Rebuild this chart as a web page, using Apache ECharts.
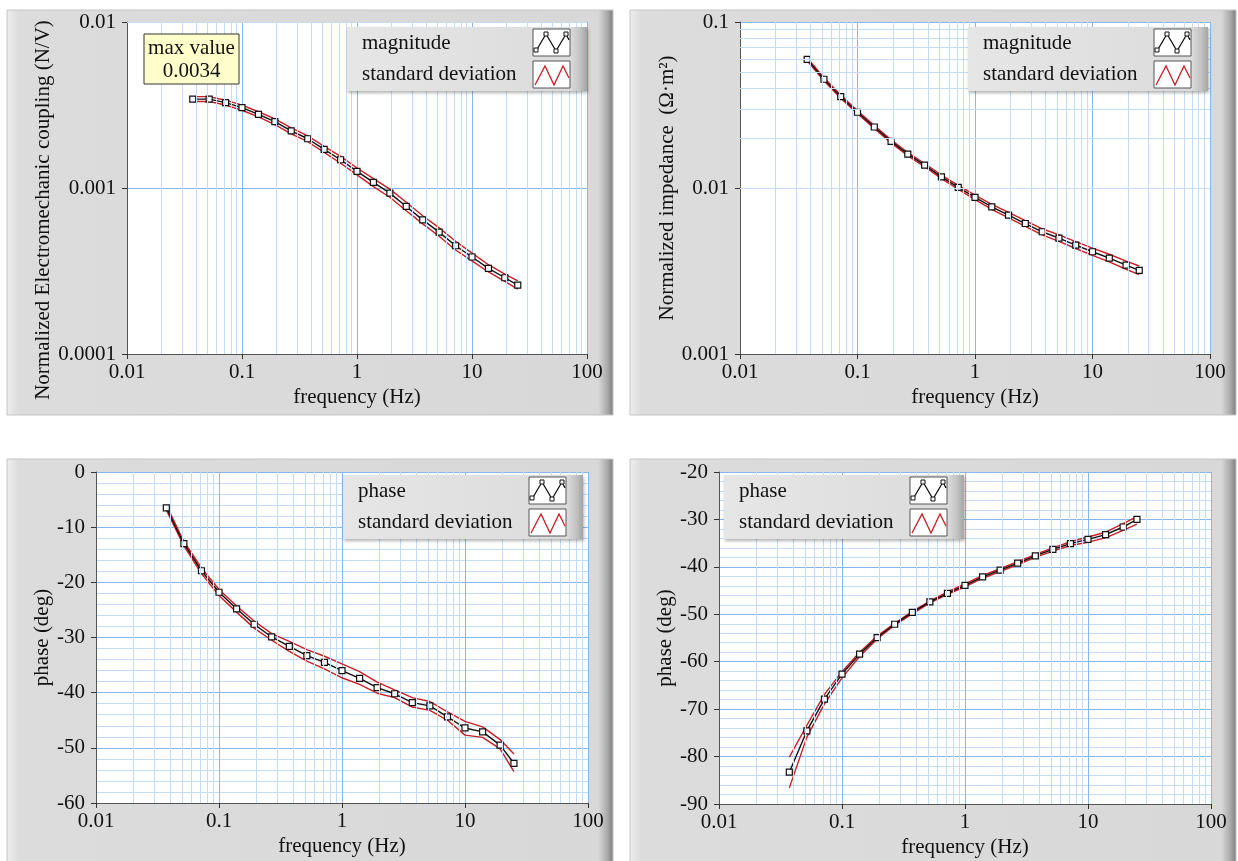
<!DOCTYPE html>
<html>
<head>
<meta charset="utf-8">
<script src="https://cdn.jsdelivr.net/npm/echarts@6/dist/echarts.min.js"></script>
<style>
  html, body { margin: 0; padding: 0; background: #fff; }
  #box { width: 1238px; height: 861px; }
</style>
</head>
<body>
<div id="box"></div>
<script>
// frequency points (Hz), shared by all four graphs
const freq = [0.0373, 0.0518, 0.072, 0.1, 0.139, 0.193, 0.268, 0.373, 0.518, 0.72,
  1, 1.39, 1.93, 2.68, 3.73, 5.18, 7.2, 10, 13.9, 19.3, 25];

// top left: electromechanic coupling (N/V)
const couplingMag = [0.00343, 0.00343, 0.00327, 0.00305, 0.00278, 0.00251, 0.00221, 0.00198, 0.00171, 0.00148,
  0.00126, 0.00108, 0.000931, 0.000774, 0.000643, 0.000542, 0.000449, 0.000384, 0.000328, 0.000288, 0.00026];
const couplingHi = [0.00355, 0.00355, 0.00338, 0.00316, 0.00288, 0.00261, 0.0023, 0.00206, 0.00178, 0.00155,
  0.00132, 0.00114, 0.000985, 0.00082, 0.00068, 0.000575, 0.000478, 0.000405, 0.000345, 0.000303, 0.000276];
const couplingLo = [0.00332, 0.00332, 0.00316, 0.00294, 0.00268, 0.00241, 0.00212, 0.0019, 0.00164, 0.00141,
  0.0012, 0.00102, 0.00088, 0.00073, 0.000608, 0.000512, 0.000423, 0.000364, 0.000312, 0.000274, 0.000246];

// top right: impedance (ohm m2)
const impedMag = [0.0596, 0.0452, 0.0355, 0.0286, 0.0233, 0.0191, 0.016, 0.01373, 0.01167, 0.0101,
  0.00877, 0.0077, 0.00686, 0.00611, 0.00545, 0.00499, 0.00453, 0.00413, 0.00378, 0.00343, 0.00319];
const impedHi = [0.061, 0.0462, 0.0363, 0.0292, 0.0238, 0.0195, 0.01635, 0.01405, 0.01197, 0.01038,
  0.00905, 0.00797, 0.00712, 0.00636, 0.00568, 0.00522, 0.00475, 0.00434, 0.00399, 0.00363, 0.00339];
const impedLo = [0.0583, 0.0442, 0.0347, 0.028, 0.0228, 0.0187, 0.01565, 0.01342, 0.01138, 0.00983,
  0.0085, 0.00744, 0.0066, 0.00587, 0.00522, 0.00477, 0.00432, 0.00393, 0.00359, 0.00324, 0.00301];

// bottom left: phase of coupling (deg)
const phase1 = [-6.5, -13.0, -17.9, -21.8, -24.8, -27.6, -29.9, -31.6, -33.3, -34.5,
  -36.0, -37.4, -39.1, -40.2, -41.8, -42.4, -44.4, -46.4, -47.1, -49.5, -52.8];
const phase1Hi = [-6.0, -12.6, -17.4, -21.3, -24.3, -27.0, -29.3, -30.7, -32.2, -33.4,
  -34.8, -36.2, -38.1, -39.5, -40.9, -41.6, -43.5, -45.2, -46.2, -48.5, -51.1];
const phase1Lo = [-6.9, -13.4, -18.4, -22.4, -25.4, -28.3, -30.5, -32.5, -34.3, -35.7,
  -37.3, -38.5, -40.1, -40.9, -42.6, -43.2, -45.0, -47.7, -48.1, -50.2, -54.3];

// bottom right: phase of impedance (deg)
const phase2 = [-83.3, -74.6, -67.9, -62.6, -58.4, -54.9, -52.1, -49.6, -47.4, -45.6,
  -43.9, -42.1, -40.7, -39.2, -37.7, -36.3, -35.1, -34.2, -33.2, -31.6, -30.0];
const phase2Hi = [-80.1, -73.4, -66.9, -62.1, -58.0, -54.6, -51.9, -49.4, -47.2, -45.3,
  -43.6, -41.8, -40.4, -38.9, -37.4, -36.0, -34.7, -33.7, -32.7, -30.9, -29.4];
const phase2Lo = [-86.6, -75.9, -68.9, -63.4, -58.9, -55.2, -52.3, -49.9, -47.6, -45.8,
  -44.2, -42.4, -41.0, -39.5, -38.0, -36.7, -35.5, -34.8, -33.9, -32.3, -31.0];

// minor grid positions on the log axes
const freqMinor = [0.02, 0.03, 0.04, 0.05, 0.06, 0.07, 0.08, 0.09, 0.2, 0.3, 0.4, 0.5, 0.6, 0.7, 0.8, 0.9,
  2, 3, 4, 5, 6, 7, 8, 9, 20, 30, 40, 50, 60, 70, 80, 90];
const couplingMinor = [0.0002, 0.0003, 0.0004, 0.0005, 0.0006, 0.0007, 0.0008, 0.0009,
  0.002, 0.003, 0.004, 0.005, 0.006, 0.007, 0.008, 0.009];
const impedMinor = [0.002, 0.003, 0.004, 0.005, 0.006, 0.007, 0.008, 0.009,
  0.02, 0.03, 0.04, 0.05, 0.06, 0.07, 0.08, 0.09];

const FONT = '"Liberation Serif", "Times New Roman", "DejaVu Serif", serif';
const INK = '#111';
const MAJOR = '#86b8f0';
const MINOR = '#c4dcf8';
const RED = '#c81e24';

const chartDom = document.getElementById('box');
const myChart = echarts.init(chartDom);

const pairs = ys => freq.map((f, i) => [f, ys[i]]);
const logFmt = v => String(+(+v).toPrecision(3));

// plot areas
const grids = [
  { left: 127, top: 22, width: 460, height: 332 },
  { left: 740, top: 22, width: 470, height: 332 },
  { left: 96, top: 472, width: 492, height: 331 },
  { left: 719, top: 472, width: 492, height: 332 }
].map(g => Object.assign(g, { show: true, backgroundColor: '#fff', borderWidth: 0 }));

const xAxes = grids.map((g, i) => ({
  type: 'log', logBase: 10, min: 0.01, max: 100, splitNumber: 4, gridIndex: i, z: 2,
  name: 'frequency (Hz)', nameLocation: 'middle', nameGap: 33,
  nameTextStyle: { fontSize: 21, color: INK, fontFamily: FONT },
  axisLine: { show: true, onZero: false, lineStyle: { color: '#555', width: 1 } },
  axisTick: { show: true, length: 5, lineStyle: { color: '#333' } },
  axisLabel: { fontSize: 21, color: INK, fontFamily: FONT, margin: 8, formatter: logFmt },
  splitLine: { show: true, lineStyle: { color: MAJOR, width: 1 } }
}));

const yBase = {
  z: 2,
  nameLocation: 'middle',
  axisLine: { show: true, lineStyle: { color: '#555', width: 1 } },
  axisTick: { show: true, length: 5, lineStyle: { color: '#333' } },
  splitLine: { show: true, lineStyle: { color: MAJOR, width: 1 } }
};
const yAxes = [
  Object.assign({}, yBase, {
    gridIndex: 0, type: 'log', logBase: 10, min: 0.0001, max: 0.01, splitNumber: 2,
    name: 'Normalized Electromechanic coupling (N/V)', nameGap: 70,
    nameTextStyle: { fontSize: 21, color: INK, fontFamily: FONT, padding: [0, 44, 0, 0] },
    axisLabel: { fontSize: 21, color: INK, fontFamily: FONT, margin: 11, formatter: logFmt }
  }),
  Object.assign({}, yBase, {
    gridIndex: 1, type: 'log', logBase: 10, min: 0.001, max: 0.1, splitNumber: 2,
    name: 'Normalized impedance  (\u03A9\u00B7m\u00B2)', nameGap: 60,
    nameTextStyle: { fontSize: 21, color: INK, fontFamily: FONT },
    axisLabel: { fontSize: 21, color: INK, fontFamily: FONT, margin: 11, formatter: logFmt }
  }),
  Object.assign({}, yBase, {
    gridIndex: 2, type: 'value', min: -60, max: 0, interval: 10,
    name: 'phase (deg)', nameGap: 41,
    nameTextStyle: { fontSize: 21, color: INK, fontFamily: FONT },
    axisLabel: { fontSize: 21, color: INK, fontFamily: FONT, margin: 11 },
    minorTick: { show: false, splitNumber: 5 },
    minorSplitLine: { show: true, lineStyle: { color: MINOR, width: 1 } }
  }),
  Object.assign({}, yBase, {
    gridIndex: 3, type: 'value', min: -90, max: -20, interval: 10,
    name: 'phase (deg)', nameGap: 39,
    nameTextStyle: { fontSize: 21, color: INK, fontFamily: FONT },
    axisLabel: { fontSize: 21, color: INK, fontFamily: FONT, margin: 11 },
    minorTick: { show: false, splitNumber: 5 },
    minorSplitLine: { show: true, lineStyle: { color: MINOR, width: 1 } }
  })
];

// minor grid lines drawn as mark lines through the axes
const minorGrid = (i, yMinor) => {
  const lines = freqMinor.map(v => ({ xAxis: v }));
  if (yMinor) yMinor.forEach(v => lines.push({ yAxis: v }));
  return {
    type: 'line', xAxisIndex: i, yAxisIndex: i, data: [], z: 1, silent: true,
    markLine: {
      silent: true, symbol: ['none', 'none'], animation: false,
      label: { show: false },
      lineStyle: { color: MINOR, width: 1, type: 'solid' },
      data: lines
    }
  };
};

const band = (i, name, ys) => ({
  name: name, type: 'line', xAxisIndex: i, yAxisIndex: i, data: pairs(ys), z: 3,
  symbol: 'none', lineStyle: { color: RED, width: 1.4 }, itemStyle: { color: RED }
});
const main = (i, name, ys) => ({
  name: name, type: 'line', xAxisIndex: i, yAxisIndex: i, data: pairs(ys), z: 4,
  symbol: 'rect', symbolSize: 6,
  lineStyle: { color: '#111', width: 1.4 },
  itemStyle: { color: '#fff', borderColor: '#111', borderWidth: 1.2 }
});

const series = [
  minorGrid(0, couplingMinor), minorGrid(1, impedMinor), minorGrid(2), minorGrid(3),
  band(0, 'standard deviation', couplingHi), band(0, 'standard deviation', couplingLo), main(0, 'magnitude', couplingMag),
  band(1, 'standard deviation', impedHi), band(1, 'standard deviation', impedLo), main(1, 'magnitude', impedMag),
  band(2, 'standard deviation', phase1Hi), band(2, 'standard deviation', phase1Lo), main(2, 'phase', phase1),
  band(3, 'standard deviation', phase2Hi), band(3, 'standard deviation', phase2Lo), main(3, 'phase', phase2)
];

// gray LabVIEW-like panels behind each graph
const frame = (x, y, w, h) => ({
  type: 'rect', z: -10, silent: true,
  shape: { x: x, y: y, width: w, height: h },
  style: {
    fill: new echarts.graphic.LinearGradient(0, 0, 1, 0, [
      { offset: 0, color: '#eeeeee' }, { offset: 0.02, color: '#dcdcdc' },
      { offset: 0.975, color: '#d8d8d8' }, { offset: 0.99, color: '#a9a9a9' }, { offset: 1, color: '#7a7a7a' }
    ]),
    stroke: '#c4c4c4', lineWidth: 1
  }
});

// legend box with labels on the left and line samples on the right
const sq = (x, y) => ({ type: 'rect', shape: { x: x, y: y, width: 4, height: 4 },
  style: { fill: '#fff', stroke: '#111', lineWidth: 1 } });
const legendBox = (x, y, label1, label2) => {
  const parts = [
    { type: 'rect', shape: { x: 0, y: 0, width: 240, height: 64 },
      style: {
        fill: new echarts.graphic.LinearGradient(0, 0, 1, 0, [
          { offset: 0, color: '#e6e6e6' }, { offset: 0.93, color: '#dcdcdc' },
          { offset: 0.97, color: '#c4c4c4' }, { offset: 1, color: '#a4a4a4' }
        ]),
        shadowBlur: 3, shadowColor: 'rgba(0,0,0,0.3)', shadowOffsetX: 1, shadowOffsetY: 2
      } },
    { type: 'text', x: 15, y: 16, style: { text: label1, font: '21px ' + FONT, fill: INK, verticalAlign: 'middle' } },
    { type: 'text', x: 15, y: 47, style: { text: label2, font: '21px ' + FONT, fill: INK, verticalAlign: 'middle' } },
    { type: 'rect', shape: { x: 186, y: 2, width: 37, height: 27 }, style: { fill: '#fff', stroke: '#555', lineWidth: 1 } },
    { type: 'rect', shape: { x: 186, y: 34, width: 37, height: 27 }, style: { fill: '#fff', stroke: '#555', lineWidth: 1 } },
    { type: 'polyline', shape: { points: [[189, 24], [199, 7], [209, 24], [219, 7], [222, 13]] },
      style: { stroke: '#111', lineWidth: 1.3, fill: null } },
    sq(187, 21), sq(197, 5), sq(207, 22), sq(217, 5),
    { type: 'polyline', shape: { points: [[188, 58], [198, 39], [207, 58], [216, 39], [222, 51]] },
      style: { stroke: RED, lineWidth: 1.3, fill: null } }
  ];
  parts.forEach((p, k) => { p.z = 50 + k; p.silent = true; });
  return { type: 'group', x: x, y: y, children: parts };
};

const maxValue = Math.max.apply(null, couplingMag).toFixed(4);
const maxBox = {
  type: 'group', x: 144, y: 34,
  children: [
    { type: 'rect', z: 50, shape: { x: 0, y: 0, width: 95, height: 50 },
      style: { fill: '#ffffcc', stroke: '#333', lineWidth: 1 } },
    { type: 'text', z: 51, x: 47.5, y: 14, style: { text: 'max value', font: '21px ' + FONT, fill: INK, align: 'center', verticalAlign: 'middle' } },
    { type: 'text', z: 51, x: 47.5, y: 37, style: { text: maxValue, font: '21px ' + FONT, fill: INK, align: 'center', verticalAlign: 'middle' } }
  ]
};

var option = {
  animation: false,
  textStyle: { fontFamily: FONT },
  graphic: [
    frame(7, 10, 606, 405), frame(630, 10, 606, 405),
    frame(7, 459, 606, 410), frame(630, 459, 606, 410),
    legendBox(347, 27, 'magnitude', 'standard deviation'),
    legendBox(968, 27, 'magnitude', 'standard deviation'),
    legendBox(343, 475, 'phase', 'standard deviation'),
    legendBox(724, 475, 'phase', 'standard deviation'),
    maxBox
  ],
  grid: grids,
  xAxis: xAxes,
  yAxis: yAxes,
  series: series
};
option && myChart.setOption(option);
window.addEventListener('resize', function () {
  if (myChart) {
    myChart.resize();
  }
});
</script>
</body>
</html>
